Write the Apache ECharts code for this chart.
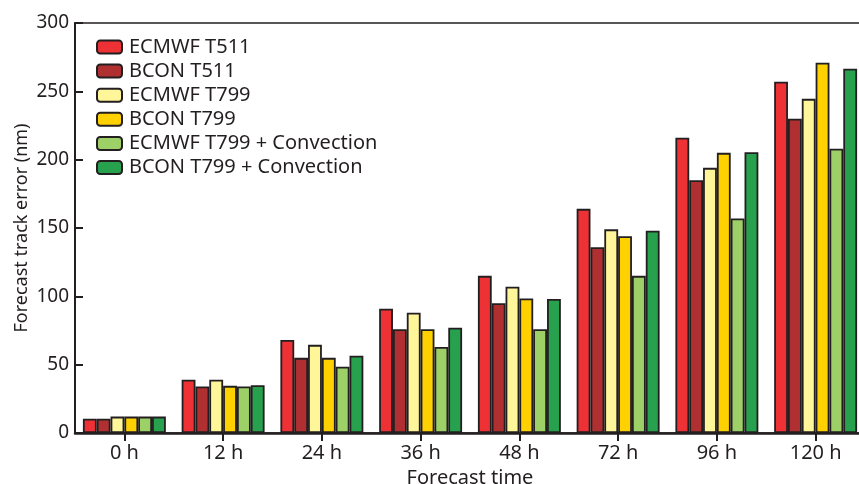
<!DOCTYPE html>
<html>
<head>
<meta charset="utf-8">
<script src="https://cdn.jsdelivr.net/npm/echarts@6/dist/echarts.min.js"></script>
<style>
  html, body { margin: 0; padding: 0; background: #fff; }
  #chart { width: 859px; height: 484px; }
</style>
</head>
<body>
<div id="chart"></div>
<script>
const categories = ['0 h', '12 h', '24 h', '36 h', '48 h', '72 h', '96 h', '120 h']

const ecmwfT511 = [10.5, 39, 68, 91, 115, 164, 216, 257]
const bconT511 = [10.5, 34, 55, 76, 95, 136, 185, 230]
const ecmwfT799 = [12, 39, 64.5, 88, 107, 149, 194, 244.5]
const bconT799 = [12, 34.5, 55, 76, 98.5, 144, 205, 271]
const ecmwfT799Conv = [12, 34, 48.5, 63, 76, 115, 157, 208]
const bconT799Conv = [12, 35, 56.5, 77, 98, 148, 205.5, 266.5]

const seriesNames = [
  'ECMWF T511', 'BCON T511', 'ECMWF T799', 'BCON T799',
  'ECMWF T799 + Convection', 'BCON T799 + Convection'
]
const seriesData = [ecmwfT511, bconT511, ecmwfT799, bconT799, ecmwfT799Conv, bconT799Conv]
const colors = ['#ee3135', '#b03031', '#fff599', '#ffd100', '#9dd067', '#28a14f']

const ink = '#231f20'
const font = 'Noto Sans'

const chart = echarts.init(document.getElementById('chart'))

const option = {
  animation: false,
  textStyle: { fontFamily: font, color: ink },
  grid: {
    left: 75,
    top: 23,
    width: 790,
    height: 410,
    outerBoundsMode: 'none',
    show: true,
    borderColor: ink,
    borderWidth: 1.5,
    backgroundColor: 'transparent'
  },
  legend: {
    orient: 'vertical',
    left: 91,
    top: 32,
    itemWidth: 25,
    itemHeight: 13,
    itemGap: 4.1,
    textStyle: { fontFamily: font, fontSize: 20, color: ink, lineHeight: 20, padding: [0, 0, 0, 2] },
    data: seriesNames
  },
  xAxis: {
    type: 'category',
    data: categories,
    name: 'Forecast time',
    nameLocation: 'middle',
    nameGap: 33,
    nameTextStyle: { fontFamily: font, fontSize: 20, color: ink },
    axisLine: { lineStyle: { color: ink, width: 2.5 } },
    axisTick: { show: true, alignWithLabel: true, length: 8, lineStyle: { color: ink, width: 2 } },
    axisLabel: { fontFamily: font, fontSize: 20, color: ink, margin: 10 }
  },
  yAxis: {
    type: 'value',
    min: 0,
    max: 300,
    interval: 50,
    name: 'Forecast track error (nm)',
    nameLocation: 'middle',
    nameGap: 44,
    nameMoveOverlap: false,
    nameTextStyle: { fontFamily: font, fontSize: 18, color: ink },
    axisLine: { show: true, lineStyle: { color: ink, width: 2 } },
    axisTick: { show: true, inside: true, length: 8, lineStyle: { color: ink, width: 2 } },
    axisLabel: { fontFamily: font, fontSize: 19, color: ink, margin: 6 },
    splitLine: { show: false }
  },
  series: seriesNames.map((name, i) => ({
    name: name,
    type: 'bar',
    data: seriesData[i],
    barGap: 0,
    barCategoryGap: '16%',
    itemStyle: { color: colors[i], borderColor: ink, borderWidth: 1.8 }
  }))
}

chart.setOption(option)
</script>
</body>
</html>
